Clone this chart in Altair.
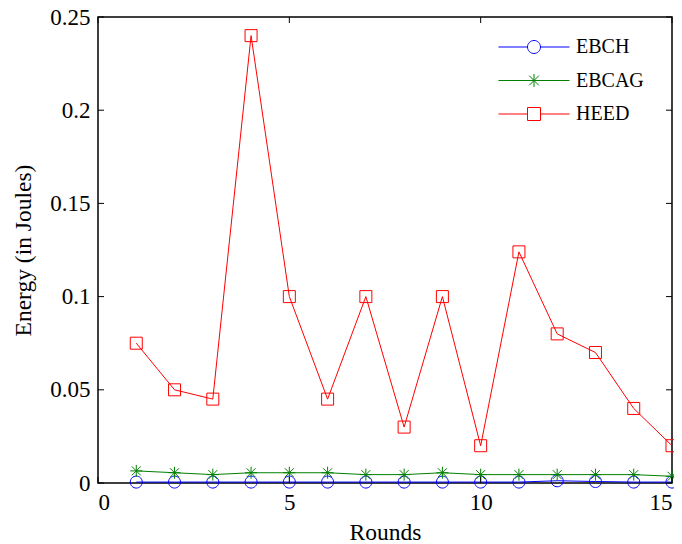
import altair as alt
import pandas as pd

rounds = list(range(1, 16))
ebch = [0.0005, 0.0005, 0.0005, 0.0005, 0.0005, 0.0005, 0.0005, 0.0005, 0.0005, 0.0005, 0.0005, 0.0012, 0.0008, 0.0005, 0.0005]
ebcag = [0.0065, 0.0055, 0.0045, 0.0055, 0.0055, 0.0055, 0.0045, 0.0045, 0.0055, 0.0045, 0.0045, 0.0045, 0.0045, 0.0045, 0.0036]
heed = [0.075, 0.05, 0.045, 0.24, 0.1, 0.045, 0.1, 0.03, 0.1, 0.02, 0.124, 0.08, 0.07, 0.04, 0.02]

series = ["EBCH", "EBCAG", "HEED"]
colors = ["#0000ff", "#008000", "#ff0000"]
x_ticks = [0, 5, 10, 15]
y_ticks = [0, 0.05, 0.1, 0.15, 0.2, 0.25]

W, H = 574, 466
FONT = "Liberation Serif"

rows = []
for name, vals in zip(series, [ebch, ebcag, heed]):
    for r, v in zip(rounds, vals):
        rows.append({"Round": r, "Energy": v, "Series": name})
df = pd.DataFrame(rows)

circle = "M-1,0A1,1 0 1,0 1,0A1,1 0 1,0 -1,0"
star = "M0,-1V1M-1,0H1M-0.75,-0.75L0.75,0.75M-0.75,0.75L0.75,-0.75"
square = "M-1,-1H1V1H-1Z"
L = 5.46
leg_circle = f"M-{L},0H-1M1,0H{L}" + circle
leg_star = f"M-{L},0H{L}M0,-1V1M-0.75,-0.75L0.75,0.75M-0.75,0.75L0.75,-0.75"
leg_square = f"M-{L},0H-1M1,0H{L}" + square

xscale = alt.Scale(domain=[0, 15], nice=False, zero=False)
yscale = alt.Scale(domain=[0, 0.25], nice=False)
cscale = alt.Scale(domain=series, range=colors)

x_axis = alt.Axis(
    values=x_ticks, title="Rounds", grid=False, domain=False, ticks=False,
    labelPadding=8, labelFont=FONT, labelFontSize=23, labelColor="black",
    titleFont=FONT, titleFontSize=23.5, titleFontWeight="normal", titleColor="black",
    titleY=56, titleBaseline="alphabetic")
y_axis = alt.Axis(
    values=y_ticks, format="~g", title="Energy (in Joules)", grid=False, domain=False, ticks=False,
    labelPadding=8, labelFont=FONT, labelFontSize=23, labelColor="black",
    titleFont=FONT, titleFontSize=23.5, titleFontWeight="normal", titleColor="black",
    titleX=-75, titleY=H / 2, titleBaseline="middle", titleAlign="center")

x_enc = alt.X("Round:Q", scale=xscale, axis=x_axis, title="Rounds")
y_enc = alt.Y("Energy:Q", scale=yscale, axis=y_axis, title="Energy (in Joules)")

base = alt.Chart(df)

lines = base.mark_line(strokeWidth=1).encode(
    x=x_enc, y=y_enc,
    color=alt.Color("Series:N", scale=cscale, legend=None),
    detail="Series:N",
)

points = base.mark_point(filled=False, strokeWidth=1, size=144, opacity=1).encode(
    x=x_enc, y=y_enc,
    color=alt.Color("Series:N", scale=cscale, legend=None),
    shape=alt.Shape("Series:N", scale=alt.Scale(domain=series, range=[circle, star, square]), legend=None),
)

leg = alt.Legend(
    title=None, orient="none", legendX=397, legendY=20, padding=0,
    labelFont=FONT, labelFontSize=20, labelColor="black",
    symbolSize=169, symbolStrokeWidth=1, symbolOffset=29, labelOffset=32, rowPadding=13.5)

legend_layer = base.transform_filter("false").mark_point(filled=False, strokeWidth=1, size=169, opacity=1).encode(
    x=x_enc, y=y_enc,
    color=alt.Color("Series:N", scale=cscale, legend=leg),
    shape=alt.Shape("Series:N", scale=alt.Scale(domain=series, range=[leg_circle, leg_star, leg_square]), legend=leg),
)

xt = pd.DataFrame({"Round": x_ticks})
yt = pd.DataFrame({"Energy": y_ticks})
tick_bottom = alt.Chart(xt).mark_rule(color="black", strokeWidth=1).encode(x=x_enc, y=alt.value(H), y2=alt.value(H - 6))
tick_top = alt.Chart(xt).mark_rule(color="black", strokeWidth=1).encode(x=x_enc, y=alt.value(0), y2=alt.value(6))
tick_left = alt.Chart(yt).mark_rule(color="black", strokeWidth=1).encode(y=y_enc, x=alt.value(0), x2=alt.value(6))
tick_right = alt.Chart(yt).mark_rule(color="black", strokeWidth=1).encode(y=y_enc, x=alt.value(W - 6), x2=alt.value(W))

chart = alt.layer(lines, points, legend_layer, tick_bottom, tick_top, tick_left, tick_right).resolve_scale(
    color="independent", shape="independent"
).properties(
    width=W, height=H,
    autosize=alt.AutoSizeParams(type="none"),
    padding={"left": 90, "top": 9, "right": 2, "bottom": 60},
    background="white",
).configure_view(stroke="black", strokeWidth=1.5)

chart.save("out.html", embed_options={"renderer": "svg", "actions": False})
